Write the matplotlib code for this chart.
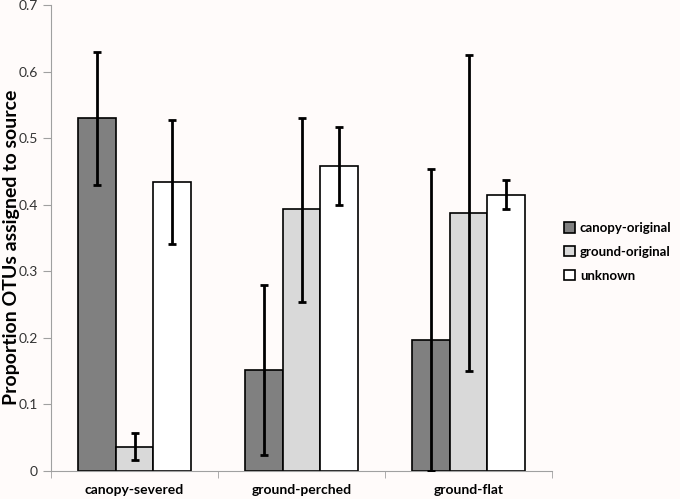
import numpy as np
import matplotlib.pyplot as plt

groups = ['canopy-severed', 'ground-perched', 'ground-flat']
series = ['canopy-original', 'ground-original', 'unknown']
colors = ['#808080', '#d9d9d9', '#ffffff']

# bar heights per series (one value per group)
canopy_orig = [0.530, 0.152, 0.197]
ground_orig = [0.036, 0.393, 0.388]
unknown = [0.434, 0.458, 0.415]

# error bar lower / upper ends
canopy_lo = [0.430, 0.024, 0.000]
canopy_hi = [0.630, 0.280, 0.453]
ground_lo = [0.016, 0.254, 0.150]
ground_hi = [0.057, 0.531, 0.625]
unknown_lo = [0.341, 0.399, 0.394]
unknown_hi = [0.527, 0.516, 0.437]

plt.rcParams['font.family'] = ['Lato', 'DejaVu Sans']

fig = plt.figure(figsize=(6.8, 4.99), dpi=100)
fig.patch.set_facecolor('#fffbfa')
ax = fig.add_axes([0.075, 0.056, 0.737, 0.934])
ax.set_facecolor('#fffbfa')

x = np.arange(len(groups))
w = 0.225
vals = [canopy_orig, ground_orig, unknown]
los = [canopy_lo, ground_lo, unknown_lo]
his = [canopy_hi, ground_hi, unknown_hi]
for i in range(3):
    v = np.array(vals[i])
    err = [v - np.array(los[i]), np.array(his[i]) - v]
    ax.bar(x + (i - 1) * w, v, w, color=colors[i], edgecolor='black',
           linewidth=1.2, label=series[i], zorder=2)
    ax.errorbar(x + (i - 1) * w, v, yerr=err, fmt='none', ecolor='black',
                elinewidth=2, capsize=3, capthick=2, zorder=3)

ax.set_xlim(-0.5, 2.5)
ax.set_ylim(0, 0.7)
ax.set_yticks(np.arange(0, 0.71, 0.1))
ax.set_yticklabels(['0', '0.1', '0.2', '0.3', '0.4', '0.5', '0.6', '0.7'])
ax.set_xticks(x)
ax.set_xticklabels(groups, fontweight='bold', fontsize=10)
ax.set_xticks([-0.5, 0.5, 1.5, 2.5], minor=True)
ax.tick_params(axis='x', which='major', length=0, pad=9)
ax.tick_params(axis='x', which='minor', length=5, color='#a0a0a0', direction='out')
ax.tick_params(axis='y', length=6, color='#a0a0a0', labelsize=10, labelcolor='#333333')
for s in ['top', 'right']:
    ax.spines[s].set_visible(False)
for s in ['left', 'bottom']:
    ax.spines[s].set_color('#a0a0a0')
ax.set_ylabel('Proportion OTUs assigned to source', fontweight='bold', fontsize=14)
ax.yaxis.set_label_coords(-0.062, 0.48)

leg = ax.legend(loc='center left', bbox_to_anchor=(1.0, 0.47), frameon=False,
                handlelength=0.8, handleheight=0.8, handletextpad=0.4,
                labelspacing=0.9, prop={'weight': 'bold', 'size': 9.5})

plt.savefig('out.png', facecolor=fig.get_facecolor())
